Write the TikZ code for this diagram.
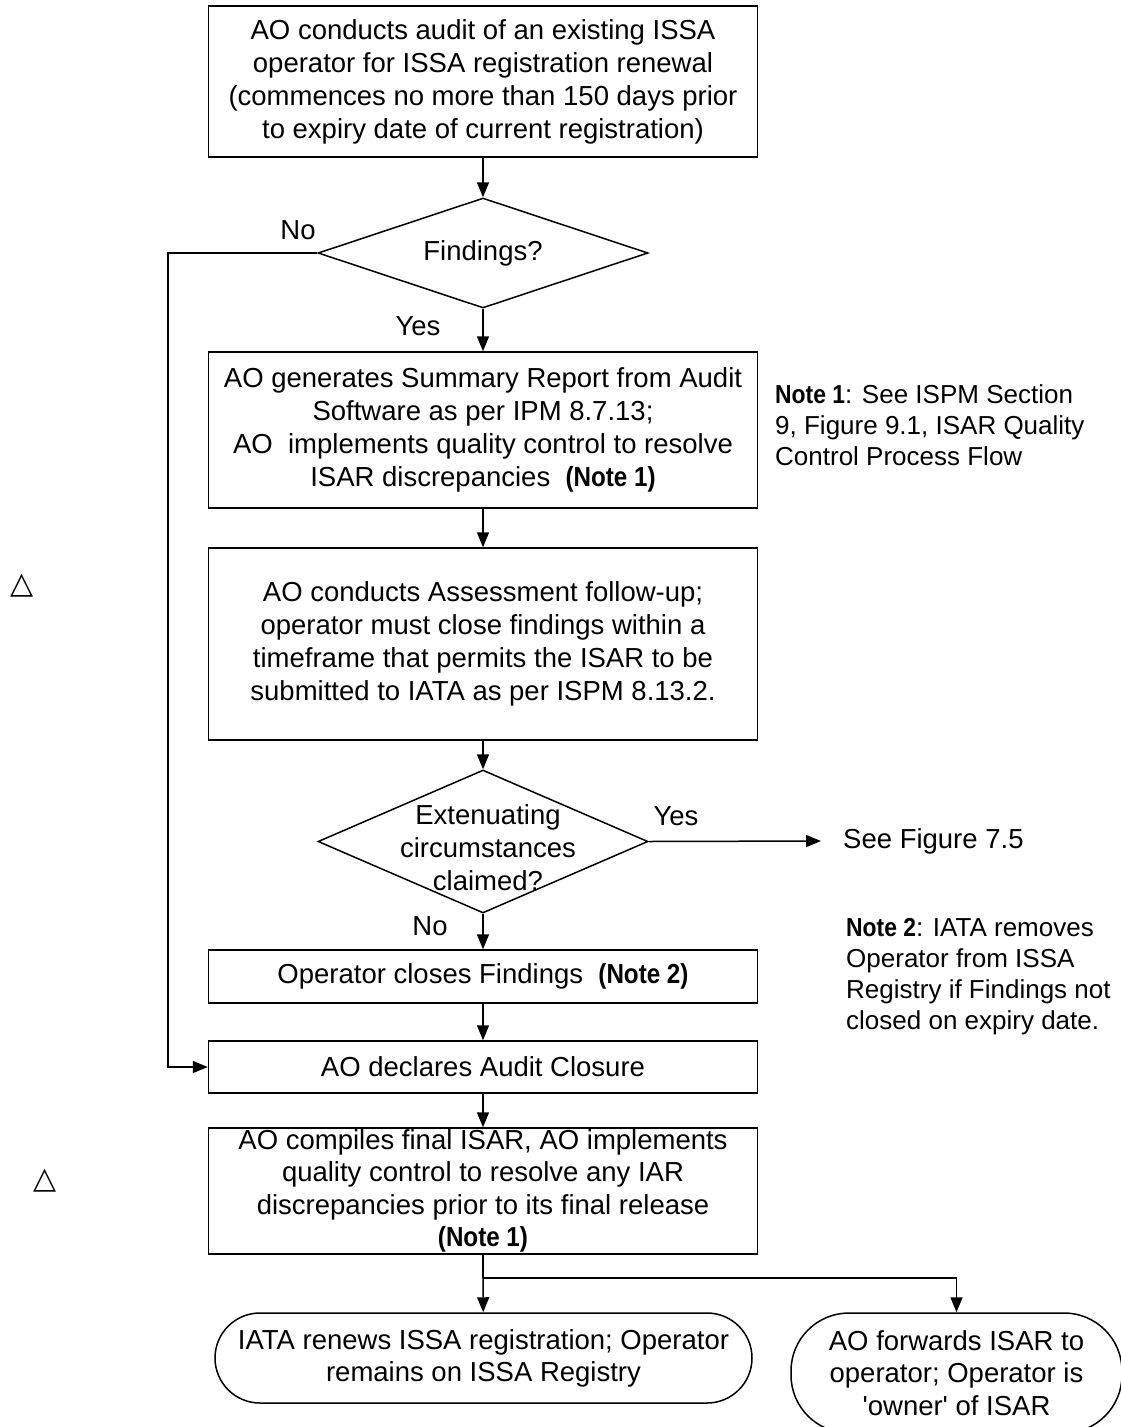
\documentclass[tikz,border=0pt]{standalone}
\usepackage{fontspec}
\setmainfont{Liberation Sans}
\newfontfamily\symfont{DejaVu Sans}
\usetikzlibrary{shapes.geometric,arrows.meta}
\newcommand{\notetag}[1]{{\bfseries\addfontfeatures{FakeStretch=0.88}#1}}

\begin{document}
\begin{tikzpicture}[x=1pt,y=-1pt,
		font=\fontsize{27.5}{33}\selectfont,
		box/.style={draw,line width=1.5pt,minimum width=549pt,align=center,inner sep=0pt},
		decision/.style={draw,diamond,line width=1.5pt,inner sep=0pt,minimum width=330pt},
		terminal/.style={draw,line width=1.5pt,align=center,inner sep=0pt},
		note/.style={anchor=north west,align=left,inner sep=0pt,font=\fontsize{26}{31}\selectfont},
		lbl/.style={inner sep=0pt},
		arr/.style={line width=1.5pt,-{Stealth[length=15pt,width=12pt,inset=0pt]}}]
		\useasboundingbox (0,0) rectangle (1121,1427);
		% main column
		\node[box,minimum height=151pt] (audit) at (483,81.5) {AO conducts audit of an existing ISSA\\operator for ISSA registration renewal\\(commences no more than 150 days prior\\to expiry date of current registration)};
		\node[decision,minimum height=110pt] (find) at (483,253) {};
		\node[lbl] (findtxt) at (find) {Findings?};
		\node[box,minimum height=156pt] (summary) at (483,430) {AO generates Summary Report from Audit\\Software as per IPM 8.7.13;\\AO\ \ implements quality control to resolve\\ISAR discrepancies\ \ \notetag{(Note 1)}};
		\node[box,minimum height=192pt] (followup) at (483,644) {AO conducts Assessment follow-up;\\operator must close findings within a\\timeframe that permits the ISAR to be\\submitted to IATA as per ISPM 8.13.2.};
		\node[decision,minimum height=143pt] (ext) at (483,841.5) {};
		\node[lbl,align=center] (exttxt) at (488,848) {Extenuating\\circumstances\\claimed?};
		\node[box,minimum height=53pt] (closes) at (483,976.5) {Operator closes Findings\ \ \notetag{(Note 2)}};
		\node[box,minimum height=52pt] (closure) at (483,1067) {AO declares Audit Closure};
		\node[box,minimum height=126pt,font=\fontsize{27.5}{32.5}\selectfont] (compile) at (483,1191) {AO compiles final ISAR, AO implements\\quality control to resolve any IAR\\discrepancies prior to its final release\\\notetag{(Note 1)}};
		\node[terminal,minimum width=537pt,minimum height=90pt,rounded corners=45pt,font=\fontsize{27.5}{32}\selectfont] (renew) at (483.5,1358) {IATA renews ISSA registration; Operator\\remains on ISSA Registry};
		\node[terminal,minimum width=331pt,minimum height=120pt,rounded corners=58pt,font=\fontsize{27.5}{32.5}\selectfont] (forward) at (956.5,1373) {AO forwards ISAR to\\operator; Operator is\\\textquotesingle owner\textquotesingle\ of ISAR};
		% side texts
		\node[note] (note1) at (775,384) {\notetag{Note 1}: See ISPM Section\\9, Figure 9.1, ISAR Quality\\Control Process Flow};
		\node[note] (note2) at (846,918) {\notetag{Note 2}: IATA removes\\Operator from ISSA\\Registry if Findings not\\closed on expiry date.};
		\node[lbl,anchor=west] (seefig) at (843,841) {See Figure 7.5};
		\node[lbl,font=\symfont\fontsize{30}{30}\selectfont] (mark1) at (22,586) {△};
		\node[lbl,font=\symfont\fontsize{30}{30}\selectfont] (mark2) at (45,1181) {△};
		% branch labels
		\node[lbl] (nofind) at (298,230) {No};
		\node[lbl] (yesfind) at (418,326) {Yes};
		\node[lbl] (yesext) at (676,816) {Yes};
		\node[lbl] (noext) at (430,926) {No};
		% connectors
		\coordinate (noturn) at (168,253);
		\coordinate (split) at (483,1278);
		\draw[arr] (audit) -- (find);
		\draw[arr] (find) -- (summary);
		\draw[arr] (summary) -- (followup);
		\draw[arr] (followup) -- (ext);
		\draw[arr] (ext) -- (closes);
		\draw[arr] (closes) -- (closure);
		\draw[arr] (closure) -- (compile);
		\draw[arr] (find.west) -- (noturn) |- (closure.west);
		\draw[arr] (ext.east) -- ([xshift=-22pt]seefig.west);
		\draw[line width=1.5pt] (compile) -- (split);
		\draw[arr] (split) -- (renew);
		\draw[arr] (split) -| (forward.north);
		\end{tikzpicture}
\end{document}
